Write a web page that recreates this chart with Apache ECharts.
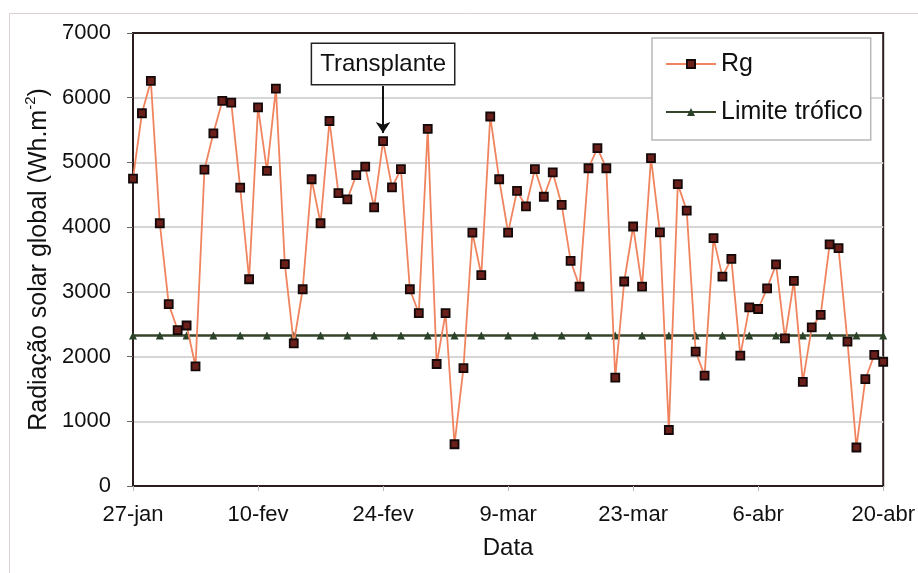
<!DOCTYPE html>
<html>
<head>
<meta charset="utf-8">
<script src="https://cdn.jsdelivr.net/npm/echarts@6/dist/echarts.min.js"></script>
<style>
  html, body { margin: 0; padding: 0; background: #ffffff; }
  #chart { width: 918px; height: 573px; }
</style>
</head>
<body>
<div id="chart"></div>
<script>
// Daily global solar radiation, 27-jan to 20-abr (day 0 = 27-jan)
const tickLabels = ['27-jan', '10-fev', '24-fev', '9-mar', '23-mar', '6-abr', '20-abr'];
const tickStep = 14;

const rgValues = [
  4750, 5760, 6260, 4060, 2810, 2410, 2480, 1850, 4890, 5450,
  5950, 5925, 4610, 3195, 5850, 4870, 6140, 3430, 2205, 3040,
  4740, 4060, 5640, 4525, 4430, 4805, 4935, 4305, 5330, 4615,
  4895, 3040, 2670, 5520, 1885, 2670, 645, 1820, 3915, 3260,
  5710, 4740, 3915, 4560, 4320, 4895, 4470, 4845, 4345, 3480,
  3080, 4910, 5220, 4910, 1675, 3160, 4010, 3080, 5065, 3920,
  865, 4665, 4255, 2075, 1705, 3830, 3235, 3510, 2015, 2760,
  2735, 3055, 3425, 2280, 3170, 1610, 2450, 2645, 3735, 3675,
  2230, 595, 1650, 2025, 1920
];

// Trophic limit, plotted every third day
const limitValue = 2325;
const limitDays = [0, 3, 6, 9, 12, 15, 18, 21, 24, 27, 30, 33, 36, 39, 42,
                   45, 48, 51, 54, 57, 60, 63, 66, 69, 72, 75, 78, 81, 84];

// Transplant date (day index)
const transplantDay = 28;

const FONT = "'Liberation Sans', Arial, sans-serif";

const rgData = rgValues.map((v, i) => [i, v]);
const limitData = limitDays.map(d => [d, limitValue]);

const chart = echarts.init(document.getElementById('chart'), null, { renderer: 'canvas' });

chart.setOption({
  backgroundColor: '#ffffff',
  animation: false,
  textStyle: { fontFamily: FONT },
  graphic: [{
    type: 'rect',
    silent: true,
    z: -10,
    shape: { x: 9.5, y: 13.5, width: 1000, height: 1000 },
    style: { fill: 'none', stroke: '#dcd0d0', lineWidth: 1 }
  }],
  grid: {
    left: 133, right: 33, top: 33, bottom: 87,
    show: true,
    borderColor: '#2b1d1d',
    borderWidth: 2,
    backgroundColor: 'transparent'
  },
  legend: {
    orient: 'vertical',
    left: 652, top: 38,
    padding: [12, 8, 14, 13],
    itemGap: 20,
    itemWidth: 50,
    itemHeight: 10,
    backgroundColor: '#ffffff',
    borderColor: '#b8b8b8',
    borderWidth: 1.5,
    textStyle: { fontSize: 25, color: '#111', fontFamily: FONT, lineHeight: 28 },
    data: ['Rg', 'Limite trófico']
  },
  xAxis: {
    type: 'value',
    min: 0, max: 84, interval: tickStep,
    name: 'Data',
    nameLocation: 'middle',
    nameGap: 50,
    nameTextStyle: { fontSize: 24, color: '#111', fontFamily: FONT },
    axisLine: { show: true, onZero: false, lineStyle: { color: '#2b1d1d', width: 2 } },
    axisTick: { show: true, length: 5, lineStyle: { color: '#bbbbbb' } },
    splitLine: { show: false },
    axisLabel: {
      fontSize: 22, color: '#111', margin: 18, fontFamily: FONT,
      formatter: v => (v % tickStep === 0 ? tickLabels[v / tickStep] : '')
    }
  },
  yAxis: {
    type: 'value',
    min: 0, max: 7000, interval: 1000,
    name: '{a|Radiação solar global (Wh.m}{s|-2}{a|)}',
    nameLocation: 'middle',
    nameGap: 78,
    nameTextStyle: {
      color: '#111',
      rich: {
        a: { fontSize: 25, color: '#111', fontFamily: FONT, lineHeight: 30 },
        s: { fontSize: 15, color: '#111', fontFamily: FONT, lineHeight: 30, verticalAlign: 'top' }
      }
    },
    axisLine: { show: true, lineStyle: { color: '#2b1d1d', width: 2 } },
    axisTick: { show: true, length: 6, lineStyle: { color: '#666' } },
    axisLabel: {
      fontSize: 22, color: '#111', margin: 22, fontFamily: FONT,
      formatter: v => String(v)
    },
    splitLine: { show: true, showMinLine: false, showMaxLine: false, lineStyle: { color: '#d6d6d6', width: 2 } }
  },
  series: [
    {
      name: 'Rg',
      type: 'line',
      data: rgData,
      symbol: 'rect',
      symbolSize: 8,
      lineStyle: { color: '#f0845f', width: 1.8 },
      itemStyle: { color: '#6a1f1a', borderColor: '#140808', borderWidth: 1.8 },
      z: 3,
      markPoint: {
        silent: true,
        symbol: 'rect',
        symbolSize: 1,
        itemStyle: { color: 'transparent' },
        label: {
          show: true,
          position: 'inside',
          formatter: 'Transplante',
          fontSize: 24,
          lineHeight: 28,
          color: '#111',
          fontFamily: FONT,
          backgroundColor: '#ffffff',
          borderColor: '#222',
          borderWidth: 1.5,
          padding: [6, 8]
        },
        data: [{ coord: [transplantDay, 6521] }]
      },
      markLine: {
        silent: true,
        symbol: ['none', 'arrow'],
        symbolSize: 11,
        lineStyle: { color: '#111', width: 2, type: 'solid' },
        label: { show: false },
        data: [[{ coord: [transplantDay, 6181] }, { coord: [transplantDay, 5455] }]]
      }
    },
    {
      name: 'Limite trófico',
      type: 'line',
      data: limitData,
      symbol: 'triangle',
      symbolSize: 8,
      lineStyle: { color: '#36442a', width: 2.5 },
      itemStyle: { color: '#2a4228' },
      z: 2
    }
  ]
});
</script>
</body>
</html>
